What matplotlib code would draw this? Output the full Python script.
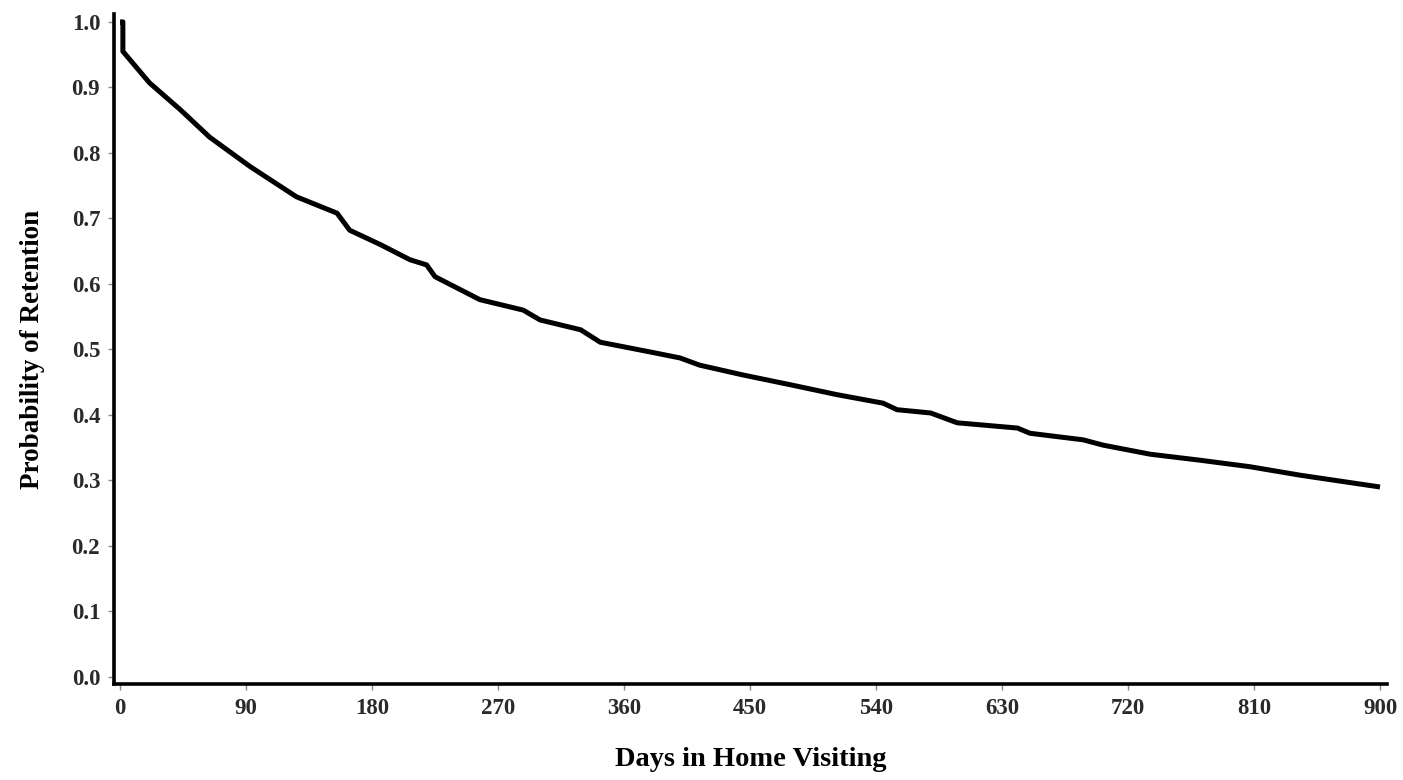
import matplotlib
matplotlib.use("Agg")
import matplotlib.pyplot as plt

# Kaplan-Meier retention estimate (days in program vs. probability retained)
days = [0, 2, 2, 21, 43, 64, 93, 126, 155, 164, 186, 207, 219, 225, 257, 288,
        300, 329, 343, 379, 400, 414, 445, 479, 512, 545, 555, 579, 598, 641,
        650, 688, 702, 736, 771, 807, 843, 900]
retention = [1.0, 1.0, 0.955, 0.907, 0.866, 0.824, 0.779, 0.733, 0.708, 0.682,
             0.660, 0.637, 0.629, 0.611, 0.576, 0.560, 0.545, 0.530, 0.511,
             0.496, 0.487, 0.476, 0.461, 0.446, 0.431, 0.418, 0.408, 0.403,
             0.388, 0.380, 0.372, 0.362, 0.354, 0.340, 0.331, 0.321, 0.308,
             0.290]

x_ticks = list(range(0, 901, 90))
y_ticks = [round(0.1 * i, 1) for i in range(11)]
y_tick_labels = [f"{v:.1f}" for v in y_ticks]

plt.rcParams["font.family"] = ["Liberation Serif", "DejaVu Serif"]
plt.rcParams["font.weight"] = "bold"

fig = plt.figure(figsize=(14.03, 7.80), dpi=100)
ax = fig.add_axes([0.0813, 0.1231, 0.9073, 0.8589])

ax.plot(days, retention, color="black", lw=3.6, solid_joinstyle="round",
        solid_capstyle="butt")

ax.set_xlim(-4.3, 905)
ax.set_ylim(-0.0107, 1.012)
ax.set_xticks(x_ticks)
ax.set_xticklabels([str(v) for v in x_ticks])
ax.set_yticks(y_ticks)
ax.set_yticklabels(y_tick_labels)

for side in ("top", "right"):
    ax.spines[side].set_visible(False)
for side in ("left", "bottom"):
    ax.spines[side].set_linewidth(2.6)
    ax.spines[side].set_color("black")

ax.tick_params(axis="both", direction="out", length=4, width=1.0,
               color="#888888", labelsize=16.5, labelcolor="#2a2a2a")
ax.tick_params(axis="y", pad=6)
ax.tick_params(axis="x", pad=6)
for lbl in ax.get_xticklabels() + ax.get_yticklabels():
    lbl.set_fontweight("bold")

ax.set_xlabel("Days in Home Visiting", fontsize=20.5, fontweight="bold",
              labelpad=20)
ax.set_ylabel("Probability of Retention", fontsize=19.5, fontweight="bold",
              labelpad=19)

fig.savefig("out.png", dpi=100, facecolor="white")
